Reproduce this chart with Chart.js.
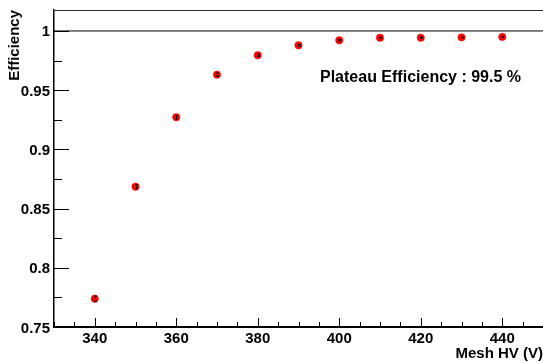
<!DOCTYPE html>
<html>
<head>
<meta charset="utf-8">
<script src="https://cdn.jsdelivr.net/npm/chart.js@4"></script>
<style>
html,body{margin:0;padding:0;background:#fff;}
#wrap{width:543px;height:363px;position:relative;}
</style>
</head>
<body>
<div id="wrap"><canvas id="c" width="543" height="363"></canvas></div>
<script>
// ---- data ----
const meshHV = [340, 350, 360, 370, 380, 390, 400, 410, 420, 430, 440];
const efficiency = [0.7739, 0.8685, 0.9271, 0.9631, 0.9795, 0.9879, 0.9921, 0.9943, 0.9943, 0.9946, 0.9950];
const effError = [0.0022, 0.0018, 0.0016, 0.0013, 0.0010, 0.0007, 0.0005, 0.0004, 0.0004, 0.0004, 0.0004];
const xTickValues = [330,335,340,345,350,355,360,365,370,375,380,385,390,395,400,405,410,415,420,425,430,435,440,445,450];
const xLabelValues = [340, 360, 380, 400, 420, 440];
const xLabelTexts = ['340', '360', '380', '400', '420', '440'];
const yTickValues = [0.75,0.775,0.8,0.825,0.85,0.875,0.9,0.925,0.95,0.975,1.0];
const yLabelValues = [0.75, 0.8, 0.85, 0.9, 0.95, 1.0];
const yLabelTexts = ['0.75', '0.8', '0.85', '0.9', '0.95', '1'];
const referenceLevel = 1.0;
const xTitle = 'Mesh HV (V)';
const yTitle = 'Efficiency';
const plateauText = 'Plateau Efficiency : 99.5 %';

const FONT = '"Liberation Sans", Arial, sans-serif';

const near = (a, list) => list.some(v => Math.abs(v - a) < 1e-6);

const decorPlugin = {
  id: 'decor',
  afterDatasetsDraw(chart) {
    const ctx = chart.ctx;
    const xs = chart.scales.x, ys = chart.scales.y;
    const area = chart.chartArea;
    ctx.save();
    // error bars
    ctx.strokeStyle = '#000';
    ctx.lineWidth = 1;
    meshHV.forEach((xv, i) => {
      const px = Math.round(xs.getPixelForValue(xv)) + 0.5;
      const y1 = ys.getPixelForValue(efficiency[i] + effError[i]);
      const y2 = ys.getPixelForValue(efficiency[i] - effError[i]);
      ctx.beginPath();
      ctx.moveTo(px, y1); ctx.lineTo(px, y2);
      ctx.moveTo(px - 1.5, y1); ctx.lineTo(px + 1.5, y1);
      ctx.moveTo(px - 1.5, y2); ctx.lineTo(px + 1.5, y2);
      ctx.stroke();
    });
    // inward ticks on y axis
    yTickValues.forEach(v => {
      const py = Math.round(ys.getPixelForValue(v)) + 0.5;
      const len = near(v, yLabelValues) ? 15 : 8;
      ctx.beginPath();
      ctx.moveTo(area.left, py); ctx.lineTo(area.left + len, py);
      ctx.stroke();
    });
    // inward ticks on x axis
    xTickValues.forEach(v => {
      const px = Math.round(xs.getPixelForValue(v)) + 0.5;
      const len = near(v, xLabelValues) ? 9 : 5;
      ctx.beginPath();
      ctx.moveTo(px, area.bottom); ctx.lineTo(px, area.bottom - len);
      ctx.stroke();
    });
    // top frame
    ctx.strokeStyle = '#333';
    ctx.beginPath();
    ctx.moveTo(area.left, area.top + 0.5); ctx.lineTo(area.right, area.top + 0.5);
    ctx.stroke();
    // tick labels
    ctx.fillStyle = '#000';
    ctx.font = 'bold 15px ' + FONT;
    ctx.textBaseline = 'alphabetic';
    ctx.textAlign = 'center';
    xLabelValues.forEach((v, i) => {
      ctx.fillText(xLabelTexts[i], xs.getPixelForValue(v), area.bottom + 16);
    });
    ctx.textAlign = 'right';
    yLabelValues.forEach((v, i) => {
      ctx.fillText(yLabelTexts[i], area.left - 4, ys.getPixelForValue(v) + 5.5);
    });
    // texts
    ctx.font = 'bold 16px ' + FONT;
    ctx.textAlign = 'left';
    ctx.fillText(plateauText, 320, 82);
    ctx.font = 'bold 15px ' + FONT;
    ctx.textAlign = 'right';
    ctx.fillText(xTitle, 543, 358);
    ctx.save();
    ctx.translate(19, 10);
    ctx.rotate(-Math.PI / 2);
    ctx.textAlign = 'right';
    ctx.fillText(yTitle, 0, 0);
    ctx.restore();
    ctx.restore();
  }
};

new Chart(document.getElementById('c'), {
  type: 'scatter',
  data: {
    datasets: [
      {
        data: meshHV.map((x, i) => ({x: x, y: efficiency[i]})),
        backgroundColor: '#ff0000',
        borderColor: '#ff0000',
        pointRadius: 3.7,
        pointBorderWidth: 0.5,
        order: 1
      },
      {
        data: [{x: 330, y: referenceLevel}, {x: 450, y: referenceLevel}],
        showLine: true,
        borderColor: '#000',
        borderWidth: 1,
        pointRadius: 0,
        order: 2
      }
    ]
  },
  options: {
    responsive: false,
    animation: false,
    devicePixelRatio: 1,
    layout: {autoPadding: false, padding: {top: 10, right: 0, left: 0, bottom: 0}},
    plugins: {legend: {display: false}, tooltip: {enabled: false}},
    scales: {
      x: {
        type: 'linear',
        min: 330, max: 450,
        afterBuildTicks(s) { s.ticks = xTickValues.map(v => ({value: v})); },
        afterFit(s) { s.height = 36; },
        grid: {display: false, drawTicks: false},
        border: {display: true, color: '#000', width: 2},
        ticks: {display: false}
      },
      y: {
        type: 'linear',
        min: 0.75, max: 1.0177,
        afterBuildTicks(s) { s.ticks = yTickValues.map(v => ({value: v})); },
        afterFit(s) { s.width = 54; },
        grid: {display: false, drawTicks: false},
        border: {display: true, color: '#000', width: 1.5},
        ticks: {display: false}
      }
    }
  },
  plugins: [decorPlugin]
});
</script>
</body>
</html>
